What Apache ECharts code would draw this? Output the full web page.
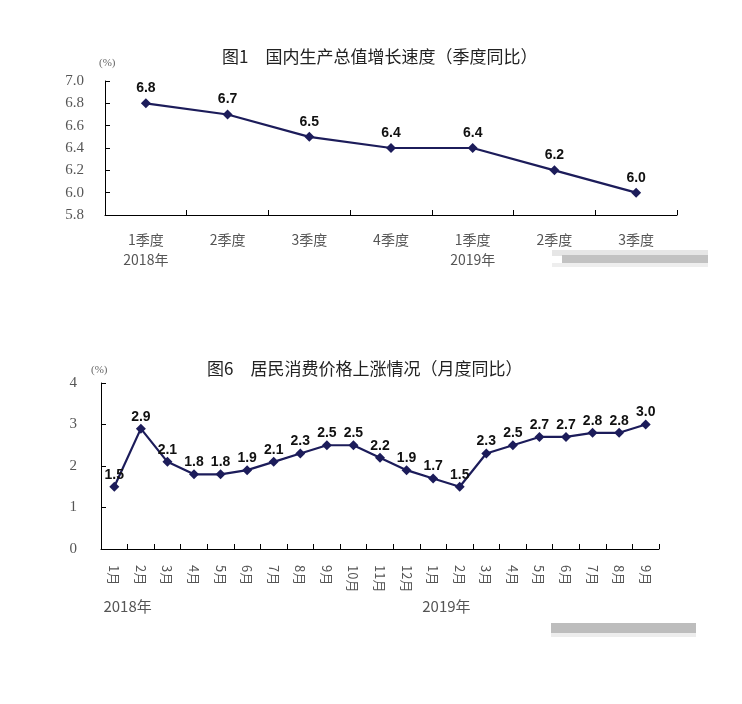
<!DOCTYPE html>
<html>
<head>
<meta charset="utf-8">
<script src="https://cdn.jsdelivr.net/npm/echarts@6/dist/echarts.min.js"></script>
<style>
html,body{margin:0;padding:0;background:#fff;}
#main{width:742px;height:704px;}
</style>
</head>
<body>
<div id="main"></div>
<script>
// ---- Chart 1: GDP growth (quarterly, y/y) ----
var gdpTitle = '图1\u3000国内生产总值增长速度（季度同比）';
var gdpCategories = ['1季度\n2018年', '2季度', '3季度', '4季度', '1季度\n2019年', '2季度', '3季度'];
var gdpValues = [6.8, 6.7, 6.5, 6.4, 6.4, 6.2, 6.0];
var gdpYMin = 5.8, gdpYMax = 7.0, gdpYStep = 0.2;

// ---- Chart 2: CPI (monthly, y/y) ----
var cpiTitle = '图6\u3000居民消费价格上涨情况（月度同比）';
var cpiCategories = ['1月','2月','3月','4月','5月','6月','7月','8月','9月','10月','11月','12月',
                     '1月','2月','3月','4月','5月','6月','7月','8月','9月'];
var cpiValues = [1.5, 2.9, 2.1, 1.8, 1.8, 1.9, 2.1, 2.3, 2.5, 2.5, 2.2, 1.9,
                 1.7, 1.5, 2.3, 2.5, 2.7, 2.7, 2.8, 2.8, 3.0];
var cpiYMin = 0, cpiYMax = 4, cpiYStep = 1;
var cpiYearTicks = [1, 13];
var cpiYearNames = ['2018年', '2019年'];
var unitLabel = '(%)';

var lineColor = '#1c1c5a';
var axisColor = '#000';
var labelGray = '#555';
var cjk = '"Noto Sans CJK SC", "Noto Sans", sans-serif';
var serif = '"Liberation Serif", "DejaVu Serif", serif';

var chart = echarts.init(document.getElementById('main'), null, {renderer: 'canvas'});

function yearFormatter(v) {
  var i = cpiYearTicks.indexOf(Math.round(v));
  return i >= 0 ? cpiYearNames[i] : '';
}

var option = {
  backgroundColor: '#fff',
  animation: false,
  title: [
    {text: gdpTitle, left: 222, top: 48, padding: 0,
     textStyle: {fontFamily: cjk, fontSize: 17, fontWeight: 'normal', color: '#222'}},
    {text: cpiTitle, left: 207, top: 360, padding: 0,
     textStyle: {fontFamily: cjk, fontSize: 17, fontWeight: 'normal', color: '#222'}}
  ],
  grid: [
    {left: 105, top: 81, width: 572, height: 134, containLabel: false},
    {left: 101, top: 383, width: 558, height: 166, containLabel: false}
  ],
  xAxis: [
    {
      gridIndex: 0, type: 'category', data: gdpCategories, boundaryGap: true,
      axisLine: {show: true, lineStyle: {color: axisColor, width: 1}},
      axisTick: {show: true, inside: true, length: 5, interval: 0, lineStyle: {color: axisColor}},
      axisLabel: {interval: 0, margin: 15, color: labelGray, fontFamily: cjk, fontSize: 14, lineHeight: 20},
      splitLine: {show: false}
    },
    {
      gridIndex: 1, type: 'category', data: cpiCategories, boundaryGap: true,
      axisLine: {show: true, lineStyle: {color: axisColor, width: 1}},
      axisTick: {show: true, inside: true, length: 5, interval: 0, lineStyle: {color: axisColor}},
      axisLabel: {interval: 0, rotate: -90, margin: 16, color: labelGray, fontFamily: cjk, fontSize: 13},
      splitLine: {show: false}
    },
    {
      gridIndex: 1, type: 'value', position: 'bottom', min: 0, max: cpiCategories.length, interval: 1,
      axisLine: {show: false}, axisTick: {show: false}, splitLine: {show: false},
      axisLabel: {show: true, margin: 50, color: labelGray, fontFamily: cjk, fontSize: 15,
                  formatter: yearFormatter, showMinLabel: true, showMaxLabel: true}
    }
  ],
  yAxis: [
    {
      gridIndex: 0, type: 'value', min: gdpYMin, max: gdpYMax, interval: gdpYStep,
      name: unitLabel, nameLocation: 'end', nameGap: 12,
      nameTextStyle: {color: '#666', fontFamily: serif, fontSize: 11, align: 'left', padding: [0, 0, 0, -6]},
      axisLine: {show: true, lineStyle: {color: axisColor, width: 1}},
      axisTick: {show: true, inside: true, length: 5, lineStyle: {color: axisColor}},
      axisLabel: {margin: 21, color: labelGray, fontFamily: serif, fontSize: 15,
                  formatter: function (v) { return v.toFixed(1); }},
      splitLine: {show: false}
    },
    {
      gridIndex: 1, type: 'value', min: cpiYMin, max: cpiYMax, interval: cpiYStep,
      name: unitLabel, nameLocation: 'end', nameGap: 7,
      nameTextStyle: {color: '#666', fontFamily: serif, fontSize: 11, align: 'left', padding: [0, 0, 0, -10]},
      axisLine: {show: true, lineStyle: {color: axisColor, width: 1}},
      axisTick: {show: true, inside: true, length: 5, lineStyle: {color: axisColor}},
      axisLabel: {margin: 24, color: labelGray, fontFamily: serif, fontSize: 15},
      splitLine: {show: false}
    }
  ],
  series: [
    {
      type: 'line', xAxisIndex: 0, yAxisIndex: 0, data: gdpValues,
      symbol: 'diamond', symbolSize: 10, showAllSymbol: true,
      lineStyle: {color: lineColor, width: 2.2},
      itemStyle: {color: lineColor},
      label: {show: true, position: 'top', distance: 3, color: '#111',
              fontFamily: '"Liberation Sans", Arial, sans-serif', fontWeight: 'bold', fontSize: 14,
              formatter: function (p) { return p.value.toFixed(1); }}
    },
    {
      type: 'line', xAxisIndex: 1, yAxisIndex: 1, data: cpiValues,
      symbol: 'diamond', symbolSize: 10, showAllSymbol: true,
      lineStyle: {color: lineColor, width: 2.2},
      itemStyle: {color: lineColor},
      label: {show: true, position: 'top', distance: 0, color: '#111',
              fontFamily: '"Liberation Sans", Arial, sans-serif', fontWeight: 'bold', fontSize: 14,
              formatter: function (p) { return p.value.toFixed(1); }}
    }
  ],
  graphic: [
    {type: 'rect', shape: {x: 552, y: 250, width: 156, height: 6}, style: {fill: '#e6e6e6'}, silent: true},
    {type: 'rect', shape: {x: 562, y: 255, width: 146, height: 8}, style: {fill: '#c2c2c2'}, silent: true},
    {type: 'rect', shape: {x: 552, y: 263, width: 156, height: 4}, style: {fill: '#eeeeee'}, silent: true},
    {type: 'rect', shape: {x: 551, y: 623, width: 145, height: 10}, style: {fill: '#bdbdbd'}, silent: true},
    {type: 'rect', shape: {x: 551, y: 633, width: 145, height: 4}, style: {fill: '#ededed'}, silent: true}
  ]
};
chart.setOption(option);
</script>
</body>
</html>
